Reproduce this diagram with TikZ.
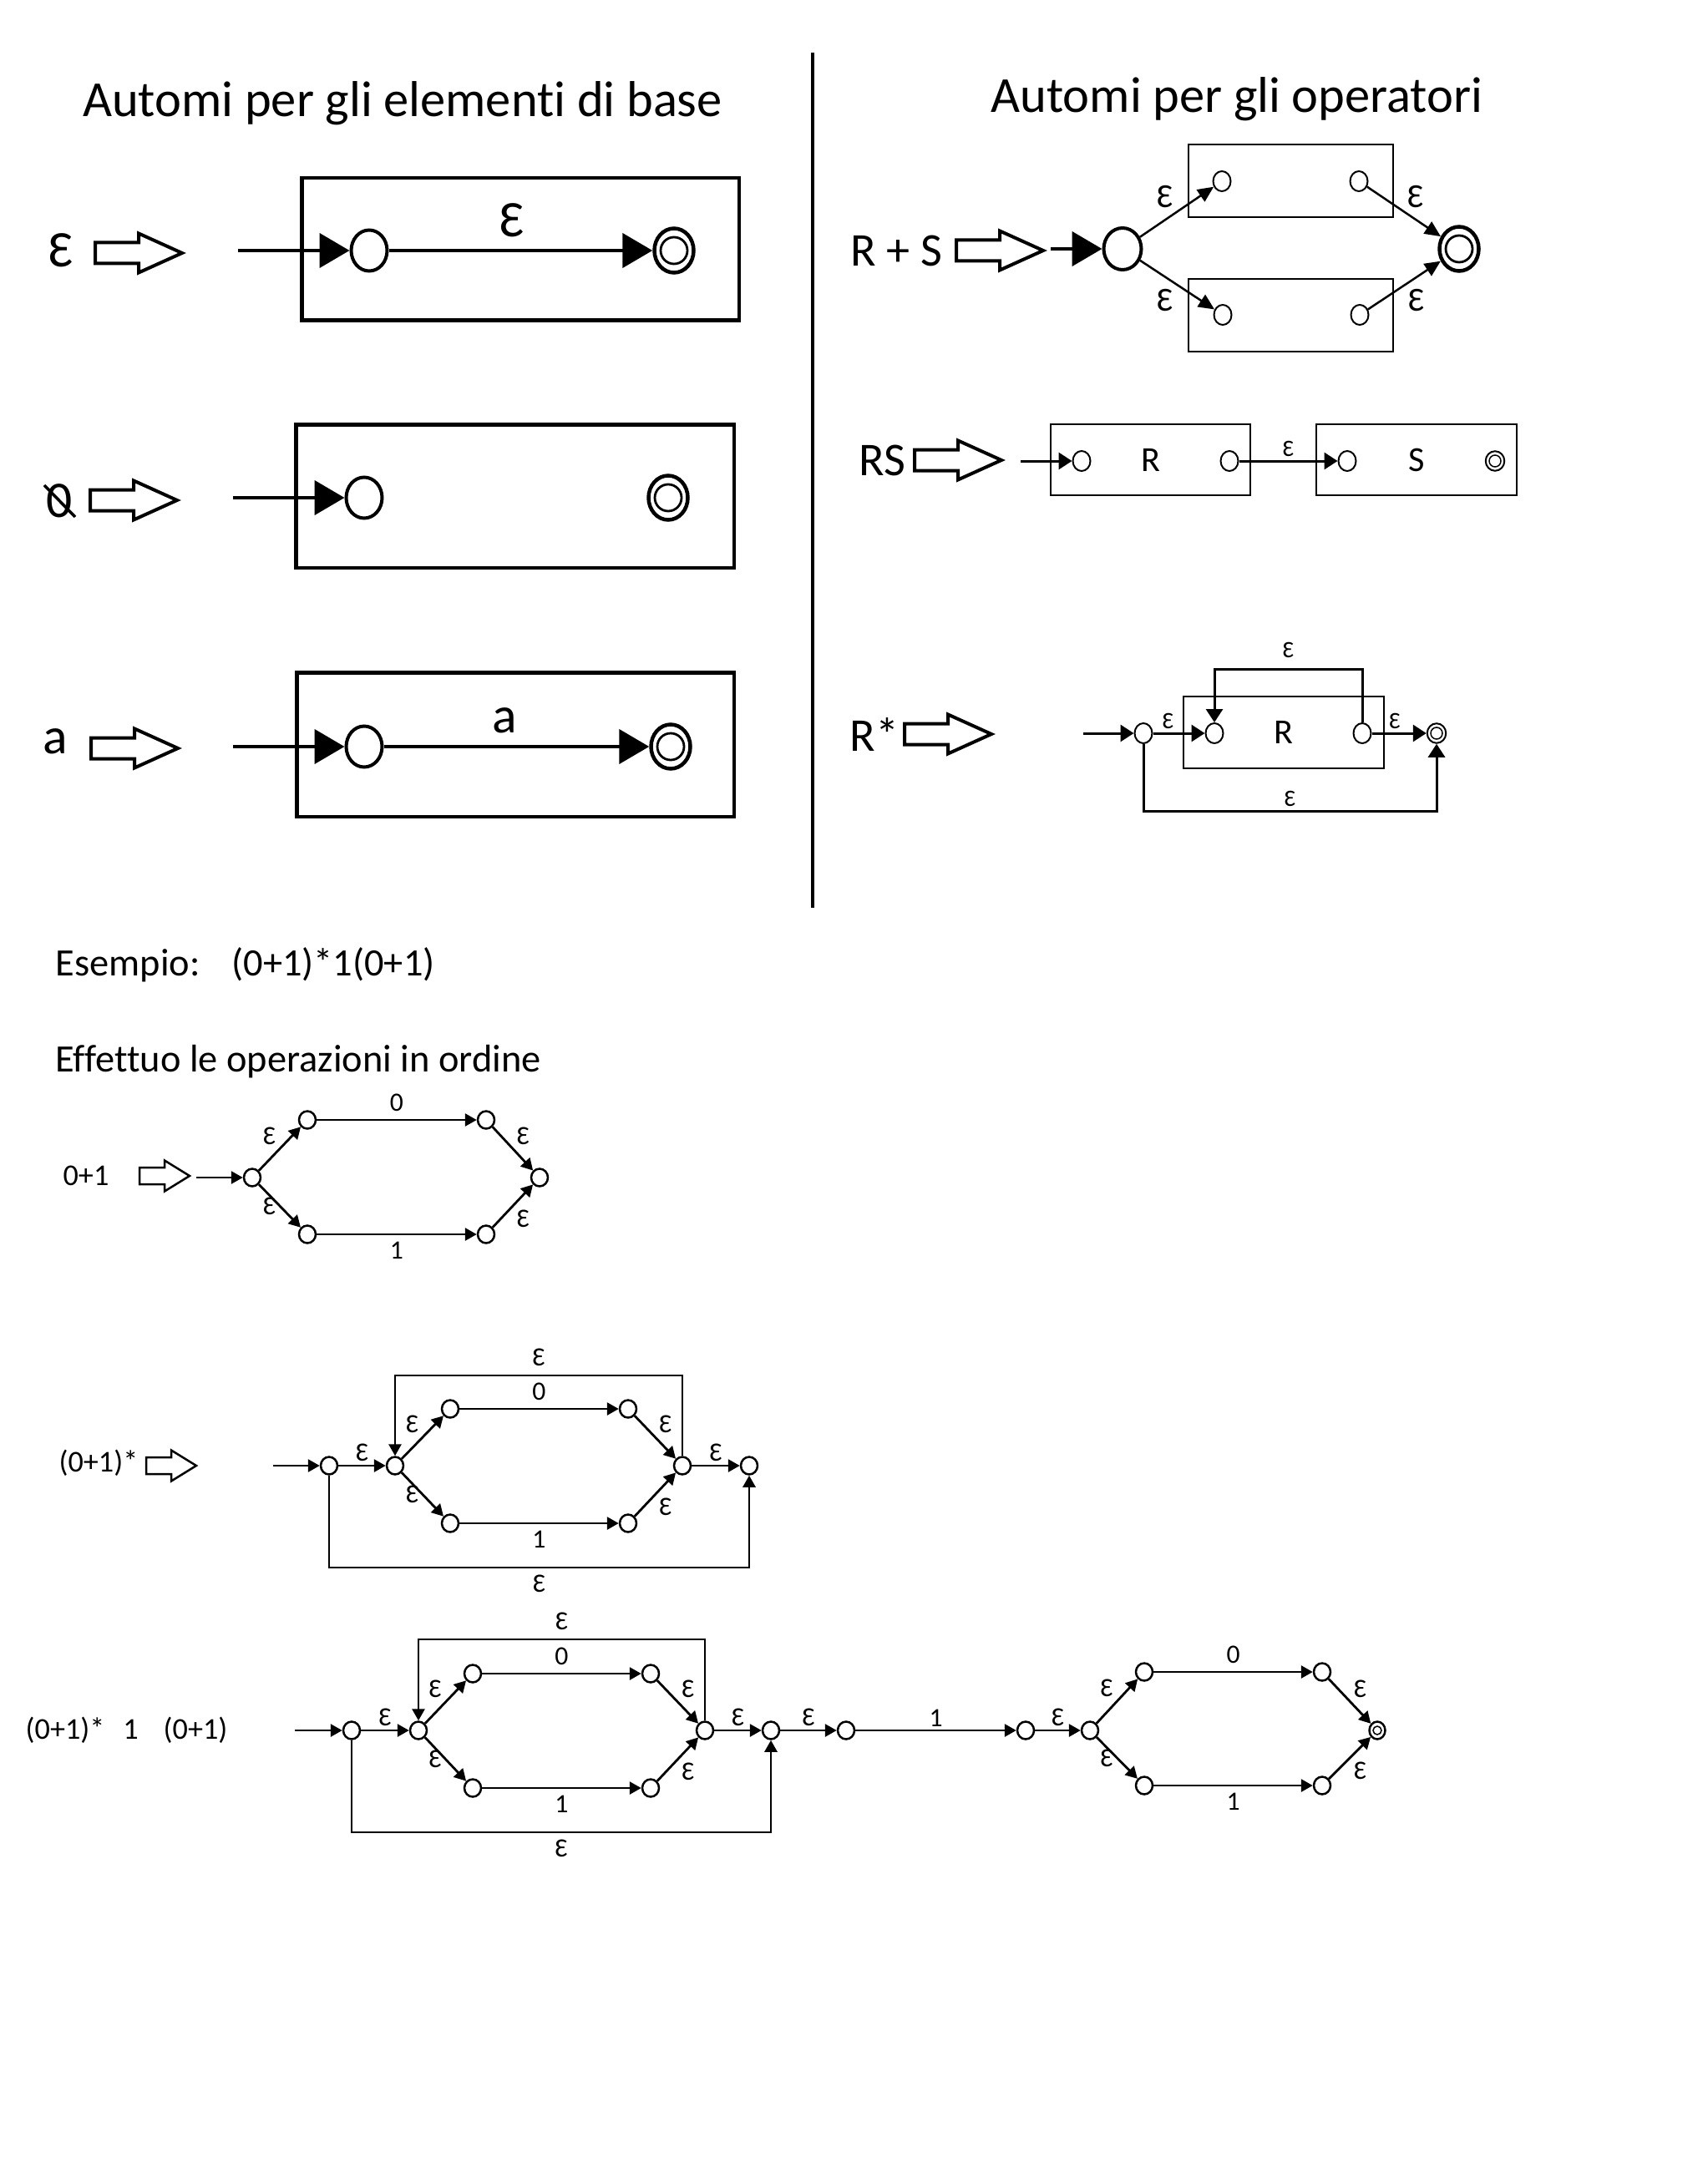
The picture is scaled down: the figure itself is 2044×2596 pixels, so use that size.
\documentclass[tikz,border=0pt]{standalone}
\usepackage{fontspec}
\setmainfont{Carlito}[Ligatures={NoCommon}]
\usetikzlibrary{shapes.geometric, arrows.meta}

\newcommand{\epsl}{Ɛ}

\tikzset{
    titlefont/.style={font=\fontsize{17.2pt}{20pt}\selectfont},
    rowlab/.style={font=\fontsize{17.5pt}{20pt}\selectfont, inner sep=1pt},
    oplab/.style={font=\fontsize{16pt}{19pt}\selectfont, inner sep=1pt},
    pluslab/.style={font=\fontsize{11.5pt}{13pt}\selectfont, inner sep=1pt},
    boxfont/.style={font=\fontsize{12pt}{14pt}\selectfont},
    tinylab/.style={font=\fontsize{8pt}{9pt}\selectfont, inner sep=1pt},
    textfont/.style={font=\fontsize{13.2pt}{16pt}\selectfont, inner sep=0pt, anchor=west},
    smalllab/.style={font=\fontsize{10.3pt}{12pt}\selectfont, inner sep=0pt},
    diglab/.style={font=\fontsize{9pt}{11pt}\selectfont, inner sep=1pt},
    bigstate/.style={ellipse, draw, line width=0.4mm, minimum width=4.3mm, minimum height=4.9mm, inner sep=0pt},
    midstate/.style={ellipse, draw, line width=0.4mm, minimum width=4.5mm, minimum height=5mm, inner sep=0pt},
    bigfinal/.style={ellipse, draw, line width=0.45mm, minimum width=4.7mm, minimum height=5.3mm, inner sep=0pt,
        path picture={\draw[line width=0.28mm] (path picture bounding box.center) circle [radius=1.6mm];}},
    smallstate/.style={ellipse, draw, line width=0.2mm, minimum width=2.1mm, minimum height=2.4mm, inner sep=0pt},
    smallfinal/.style={ellipse, draw, line width=0.2mm, minimum width=2.25mm, minimum height=2.35mm, inner sep=0pt,
        path picture={\draw[line width=0.15mm] (path picture bounding box.center) circle [radius=0.7mm];}},
    tinystate/.style={ellipse, draw, line width=0.25mm, minimum width=2mm, minimum height=2.1mm, inner sep=0pt},
    tinyfinal/.style={ellipse, draw, line width=0.25mm, minimum width=1.9mm, minimum height=2.1mm, inner sep=0pt,
        path picture={\draw[line width=0.15mm] (path picture bounding box.center) circle [radius=0.5mm];}},
    thickbox/.style={draw, rectangle, line width=0.45mm, inner sep=0pt},
    thinbox/.style={draw, rectangle, line width=0.2mm, inner sep=0pt},
    bigarr/.style={line width=0.45mm, -{Triangle[length=3.6mm, width=4.1mm]}},
    midarr/.style={line width=0.25mm, -{Triangle[length=1.9mm, width=1.7mm]}},
    smallarr/.style={line width=0.3mm, -{Triangle[length=1.6mm, width=2mm]}},
    tinyarr/.style={line width=0.28mm, -{Triangle[length=1.4mm, width=1.5mm]}},
    bigimpl/.pic={\draw[line width=0.4mm] (0,-12.5) -- (52,-12.5) -- (52,-23.5) -- (104,0) -- (52,23.5) -- (52,12.5) -- (0,12.5) -- cycle;},
    smallimpl/.pic={\draw[line width=0.25mm] (0,-10) -- (30,-10) -- (30,-18.5) -- (60,0) -- (30,18.5) -- (30,10) -- (0,10) -- cycle;}
}

\begin{document}
\begin{tikzpicture}[x=0.1mm, y=-0.1mm]
    \useasboundingbox (0,0) rectangle (2044,2596);

    \node[titlefont] (titlebase) at (482,124) {Automi per gli elementi di base};
    \node[titlefont] (titleop) at (1481,119) {Automi per gli operatori};
    \coordinate (divtop) at (973,63);
    \coordinate (divbot) at (973,1087);
    \draw[line width=0.4mm] (divtop) -- (divbot);

    \node[thickbox, minimum width=52.35mm, minimum height=17.05mm] (boxeps) at (623,298.5) {};
    \node[rowlab] (lbleps) at (73,300) {\epsl};
    \pic at (114,303) {bigimpl};
    \coordinate (ineps) at (285,300);
    \node[bigstate] (s0eps) at (442,300) {};
    \node[bigfinal] (f0eps) at (807,300) {};
    \draw[bigarr] (ineps) -- (s0eps);
    \draw[bigarr] (s0eps) -- node[above=1mm, xshift=-1mm, rowlab] {\epsl} (f0eps);

    \node[thickbox, minimum width=52.45mm, minimum height=17.15mm] (boxempty) at (616.5,594) {};
    \node[rowlab] (lblempty) at (71,600) {0};
    \draw[line width=0.35mm] (53,581) -- (90,619);
    \pic at (108,599) {bigimpl};
    \coordinate (inempty) at (279,596);
    \node[bigstate] (s0empty) at (436,596) {};
    \node[bigfinal] (f0empty) at (800,596) {};
    \draw[bigarr] (inempty) -- (s0empty);

    \node[thickbox, minimum width=52.35mm, minimum height=17.25mm] (boxa) at (617,891.5) {};
    \node[rowlab] (lbla) at (66,888) {a};
    \pic at (109,896) {bigimpl};
    \coordinate (ina) at (279,894);
    \node[bigstate] (s0a) at (436,894) {};
    \node[bigfinal] (f0a) at (803,894) {};
    \draw[bigarr] (ina) -- (s0a);
    \draw[bigarr] (s0a) -- node[above=1mm, xshift=-1.4mm, rowlab] {a} (f0a);

    \node[oplab] (lblplus) at (1073,300) {R + S};
    \pic at (1145,300) {bigimpl};
    \coordinate (inplus) at (1258,298);
    \node[thinbox, minimum width=24.5mm, minimum height=8.7mm] (boxplusR) at (1545.5,216.5) {};
    \node[thinbox, minimum width=24.5mm, minimum height=8.7mm] (boxplusS) at (1545.5,377.5) {};
    \node[midstate] (s0plus) at (1344,298) {};
    \node[smallstate] (r0plus) at (1463,217) {};
    \node[smallstate] (r1plus) at (1627,217) {};
    \node[smallstate] (t0plus) at (1464,377) {};
    \node[smallstate] (t1plus) at (1628,377) {};
    \node[bigfinal] (f0plus) at (1747,298) {};
    \draw[bigarr] (inplus) -- (s0plus);
    \draw[midarr] (s0plus) -- node[above left, pluslab] {\epsl} (r0plus);
    \draw[midarr] (s0plus) -- node[below left, pluslab] {\epsl} (t0plus);
    \draw[midarr] (r1plus) -- node[above right, pluslab] {\epsl} (f0plus);
    \draw[midarr] (t1plus) -- node[below right, pluslab] {\epsl} (f0plus);

    \node[oplab] (lblcat) at (1056,551) {RS};
    \pic at (1095,551) {bigimpl};
    \coordinate (incat) at (1222,552);
    \node[thinbox, boxfont, minimum width=23.9mm, minimum height=8.5mm] (boxcatR) at (1377.5,550.5) {R};
    \node[thinbox, boxfont, minimum width=24mm, minimum height=8.5mm] (boxcatS) at (1696,550.5) {S};
    \node[smallstate] (r0cat) at (1295,552) {};
    \node[smallstate] (r1cat) at (1472,552) {};
    \node[smallstate] (t0cat) at (1613,552) {};
    \node[smallfinal] (t1cat) at (1790,552) {};
    \draw[smallarr] (incat) -- (r0cat);
    \draw[smallarr] (r1cat) -- node[above, tinylab] {\epsl} (t0cat);

    \node[oplab] (lblstar) at (1047,880) {R*};
    \pic at (1083,879) {bigimpl};
    \coordinate (instar) at (1297,878);
    \coordinate (topstar) at (0,801);
    \coordinate (botstar) at (0,971);
    \node[thinbox, boxfont, minimum width=24mm, minimum height=8.6mm] (boxstar) at (1536.5,877) {R};
    \node[smallstate] (q0star) at (1369,878) {};
    \node[smallstate] (r0star) at (1454,878) {};
    \node[smallstate] (r1star) at (1631,878) {};
    \node[smallfinal] (f0star) at (1720,878) {};
    \draw[smallarr] (instar) -- (q0star);
    \draw[smallarr] (q0star) -- node[above, xshift=-1.3mm, tinylab] {\epsl} (r0star);
    \draw[smallarr] (r1star) -- node[above, xshift=-0.5mm, tinylab] {\epsl} (f0star);
    \draw[smallarr] (r1star.north) -- (r1star.north |- topstar) -| node[pos=0.25, above=0.8mm, tinylab] {\epsl} (r0star.north);
    \draw[smallarr] (q0star.south) |- node[pos=0.75, above, tinylab] {\epsl} (f0star.south |- botstar) -- (f0star.south);

    \node[textfont] (esempio) at (66,1155) {Esempio: \hspace{2.4mm}(0+1)*1(0+1)};
    \node[textfont] (ordine) at (66,1271) {Effettuo le operazioni in ordine};

    \node[smalllab] (lblone) at (103,1408) {0+1};
    \pic at (167,1408) {smallimpl};
    \coordinate (inone) at (235,1410);
    \node[tinystate] (s0one) at (302,1410) {};
    \node[tinystate] (u0one) at (368,1341) {};
    \node[tinystate] (u1one) at (582,1341) {};
    \node[tinystate] (d0one) at (368,1478) {};
    \node[tinystate] (d1one) at (582,1478) {};
    \node[tinystate] (f0one) at (646,1410) {};
    \draw[tinyarr] (inone) -- (s0one);
    \draw[tinyarr] (s0one) -- node[above left, diglab] {\epsl} (u0one);
    \draw[tinyarr] (s0one) -- node[left, diglab] {\epsl} (d0one);
    \draw[tinyarr] (u0one) -- node[above=0.5mm, diglab] {0} (u1one);
    \draw[tinyarr] (d0one) -- node[below=0.4mm, diglab] {1} (d1one);
    \draw[tinyarr] (u1one) -- node[above right, diglab] {\epsl} (f0one);
    \draw[tinyarr] (d1one) -- node[below right, diglab] {\epsl} (f0one);

    \node[smalllab] (lbltwo) at (118,1752) {(0+1)*};
    \pic at (175,1755) {smallimpl};
    \coordinate (intwo) at (327,1755);
    \coordinate (toptwo) at (0,1647);
    \coordinate (bottwo) at (0,1877);
    \node[tinystate] (q0two) at (394,1755) {};
    \node[tinystate] (q1two) at (473,1755) {};
    \node[tinystate] (u0two) at (539,1687) {};
    \node[tinystate] (u1two) at (752,1687) {};
    \node[tinystate] (d0two) at (539,1824) {};
    \node[tinystate] (d1two) at (752,1824) {};
    \node[tinystate] (f0two) at (817,1755) {};
    \node[tinystate] (q3two) at (897,1755) {};
    \draw[tinyarr] (intwo) -- (q0two);
    \draw[tinyarr] (q0two) -- node[above, diglab] {\epsl} (q1two);
    \draw[tinyarr] (q1two) -- node[above left, diglab] {\epsl} (u0two);
    \draw[tinyarr] (q1two) -- node[left, diglab] {\epsl} (d0two);
    \draw[tinyarr] (u0two) -- node[above=0.5mm, diglab] {0} (u1two);
    \draw[tinyarr] (d0two) -- node[below=0.4mm, diglab] {1} (d1two);
    \draw[tinyarr] (u1two) -- node[above right, diglab] {\epsl} (f0two);
    \draw[tinyarr] (d1two) -- node[below right, diglab] {\epsl} (f0two);
    \draw[tinyarr] (f0two) -- node[above, diglab] {\epsl} (q3two);
    \draw[tinyarr] (f0two.north) -- (f0two.north |- toptwo) -| node[pos=0.25, above=0.6mm, diglab] {\epsl} (q1two.north);
    \draw[tinyarr] (q0two.south) |- node[pos=0.75, below=0.4mm, diglab] {\epsl} (q3two.south |- bottwo) -- (q3two.south);

    \node[smalllab, anchor=west] (lblthree) at (30,2072) {(0+1)*\hspace{2.2mm}1\hspace{3mm}(0+1)};
    \coordinate (inthree) at (353,2072);
    \coordinate (topthree) at (0,1963);
    \coordinate (botthree) at (0,2194);
    \node[tinystate] (q0three) at (421,2072) {};
    \node[tinystate] (q1three) at (501,2072) {};
    \node[tinystate] (u0three) at (566,2004) {};
    \node[tinystate] (u1three) at (779,2004) {};
    \node[tinystate] (d0three) at (566,2141) {};
    \node[tinystate] (d1three) at (779,2141) {};
    \node[tinystate] (f0three) at (844,2072) {};
    \node[tinystate] (q3three) at (923,2072) {};
    \node[tinystate] (r0three) at (1013,2072) {};
    \node[tinystate] (r1three) at (1228,2072) {};
    \node[tinystate] (r2three) at (1305,2072) {};
    \node[tinystate] (v0three) at (1370,2002) {};
    \node[tinystate] (v1three) at (1583,2002) {};
    \node[tinystate] (w0three) at (1370,2138) {};
    \node[tinystate] (w1three) at (1583,2138) {};
    \node[tinyfinal] (finthree) at (1649,2072) {};
    \draw[tinyarr] (inthree) -- (q0three);
    \draw[tinyarr] (q0three) -- node[above, diglab] {\epsl} (q1three);
    \draw[tinyarr] (q1three) -- node[above left, diglab] {\epsl} (u0three);
    \draw[tinyarr] (q1three) -- node[left, diglab] {\epsl} (d0three);
    \draw[tinyarr] (u0three) -- node[above=0.5mm, diglab] {0} (u1three);
    \draw[tinyarr] (d0three) -- node[below=0.4mm, diglab] {1} (d1three);
    \draw[tinyarr] (u1three) -- node[above right, diglab] {\epsl} (f0three);
    \draw[tinyarr] (d1three) -- node[below right, diglab] {\epsl} (f0three);
    \draw[tinyarr] (f0three) -- node[above, diglab] {\epsl} (q3three);
    \draw[tinyarr] (f0three.north) -- (f0three.north |- topthree) -| node[pos=0.25, above=0.6mm, diglab] {\epsl} (q1three.north);
    \draw[tinyarr] (q0three.south) |- node[pos=0.75, below=0.4mm, diglab] {\epsl} (q3three.south |- botthree) -- (q3three.south);
    \draw[tinyarr] (q3three) -- node[above, diglab] {\epsl} (r0three);
    \draw[tinyarr] (r0three) -- node[above, diglab] {1} (r1three);
    \draw[tinyarr] (r1three) -- node[above, diglab] {\epsl} (r2three);
    \draw[tinyarr] (r2three) -- node[above left, diglab] {\epsl} (v0three);
    \draw[tinyarr] (r2three) -- node[left, diglab] {\epsl} (w0three);
    \draw[tinyarr] (v0three) -- node[above=0.5mm, diglab] {0} (v1three);
    \draw[tinyarr] (w0three) -- node[below=0.4mm, diglab] {1} (w1three);
    \draw[tinyarr] (v1three) -- node[above right, diglab] {\epsl} (finthree);
    \draw[tinyarr] (w1three) -- node[below right, diglab] {\epsl} (finthree);
\end{tikzpicture}
\end{document}
